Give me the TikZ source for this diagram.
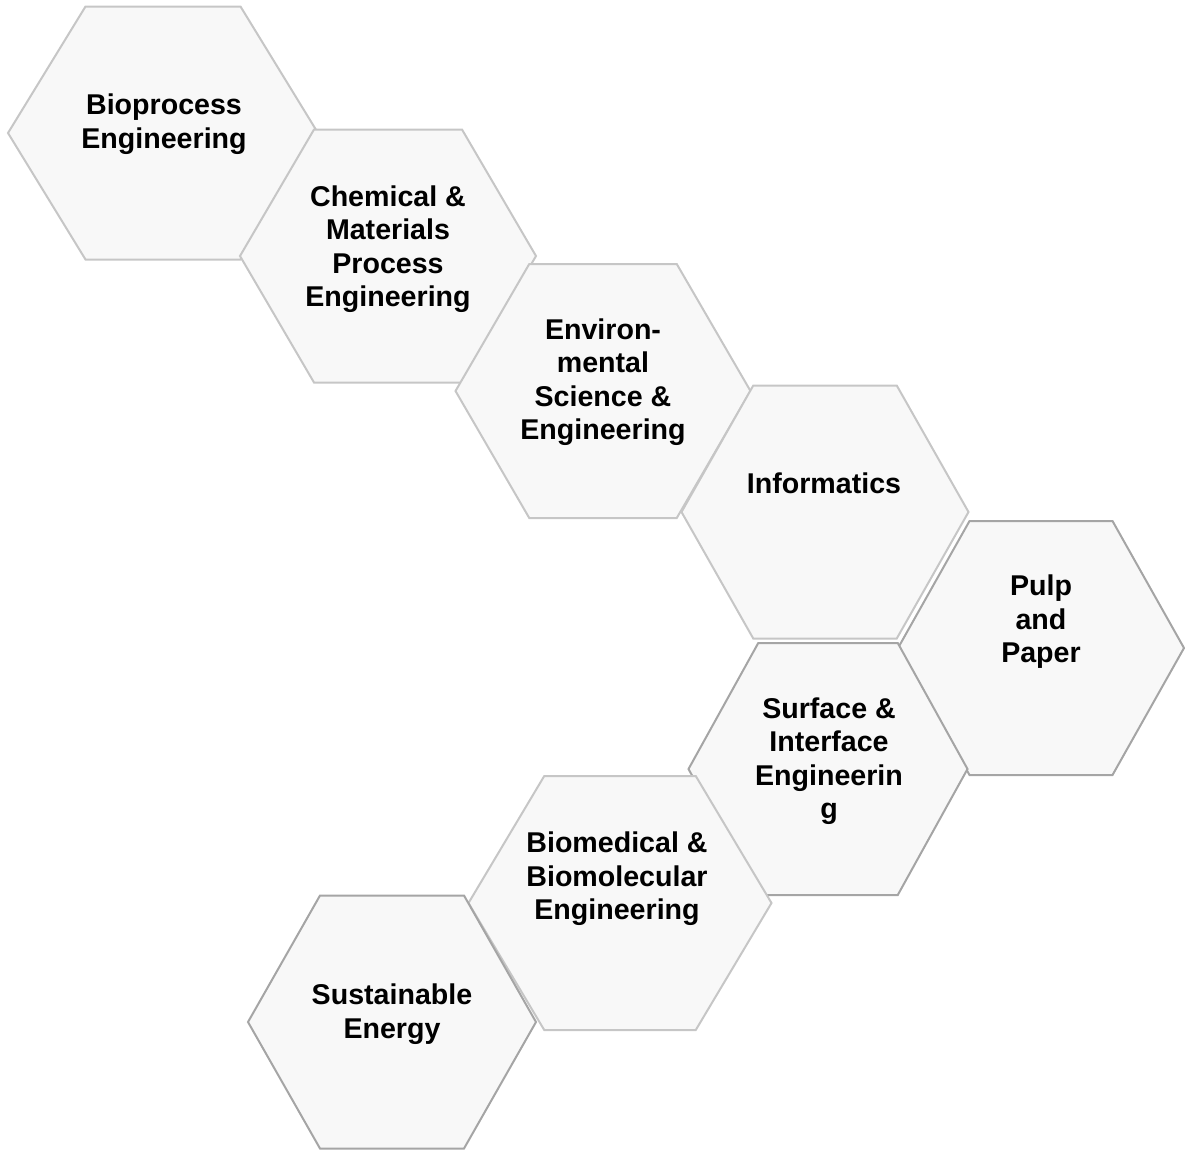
\documentclass[tikz,border=0pt]{standalone}
\usepackage{fontspec}
\setmainfont{Liberation Sans}
\definecolor{hexfill}{HTML}{F8F8F8}
\definecolor{edgelight}{HTML}{C6C6C6}
\definecolor{edgedark}{HTML}{A5A5A5}
\newcommand{\HexCell}[5]{%
  \draw[#5] ({#1-#3/2},#2) -- ({#1-#3/4},{#2-#4/2}) -- ({#1+#3/4},{#2-#4/2})
    -- ({#1+#3/2},#2) -- ({#1+#3/4},{#2+#4/2}) -- ({#1-#3/4},{#2+#4/2}) -- cycle;}
\tikzset{
  hexlight/.style={fill=hexfill, draw=edgelight, line width=2pt, line join=miter},
  hexdark/.style={fill=hexfill, draw=edgedark, line width=2pt, line join=miter},
  hexlabel/.style={align=center, inner sep=0pt, font=\bfseries\fontsize{28.6}{33.5}\selectfont}
}
\begin{document}
\begin{tikzpicture}[x=1pt,y=-1pt]
\useasboundingbox (0,0) rectangle (1185,1149);
\HexCell{163}{133}{310}{253}{hexlight}
\HexCell{388}{256}{296}{253}{hexlight}
\HexCell{603}{391}{295}{254}{hexlight}
\HexCell{825}{512}{287}{253}{hexlight}
\HexCell{1041}{648}{286}{254}{hexdark}
\HexCell{828}{769}{279}{252}{hexdark}
\HexCell{620}{903}{303}{254}{hexlight}
\HexCell{392}{1022}{288}{253}{hexdark}
\node[hexlabel] (bio) at (164,124) {Bioprocess\\Engineering};
\node[hexlabel] (chem) at (388,249) {Chemical \&\\Materials\\Process\\Engineering};
\node[hexlabel] (env) at (603,382) {Environ-\\mental\\Science \&\\Engineering};
\node[hexlabel] (info) at (824,483) {Informatics};
\node[hexlabel] (pulp) at (1041,622) {Pulp\\and\\Paper};
\node[hexlabel] (surf) at (829,761) {Surface \&\\Interface\\Engineerin\\g};
\node[hexlabel] (biomed) at (617,879) {Biomedical \&\\Biomolecular\\Engineering};
\node[hexlabel] (energy) at (392,1014) {Sustainable\\Energy};
\end{tikzpicture}
\end{document}
